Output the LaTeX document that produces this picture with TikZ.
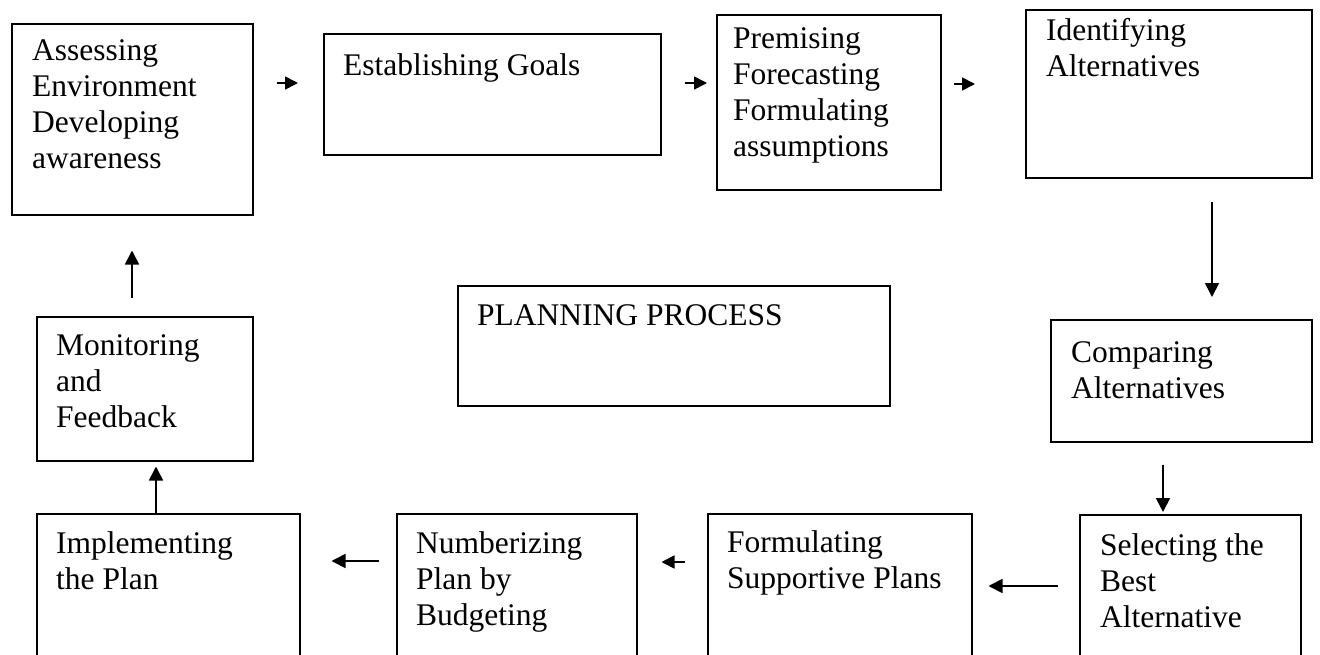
\documentclass[tikz,border=0pt]{standalone}
\usepackage{fontspec}
\setmainfont{Liberation Serif}
\usetikzlibrary{arrows.meta}
\newcommand\mylines[1]{\begin{tabular}[t]{@{}l@{}}#1\end{tabular}}
\begin{document}
\begin{tikzpicture}[x=1pt,y=-1pt,
  box/.style={draw, line width=1.5pt, inner sep=0pt, anchor=north west},
  lbl/.style={anchor=base west, inner sep=0pt, font=\fontsize{31.5}{36}\selectfont},
  arr/.style={line width=1.7pt, -{Triangle[length=14pt,width=14pt]}},
  sarr/.style={line width=1.7pt, -{Triangle[length=13pt,width=13pt]}}]
\useasboundingbox (0,0) rectangle (1320,654);
\clip (0,0) rectangle (1320,654);
% boxes
\node[box, minimum width=241pt, minimum height=191pt] (asses) at (11,23) {};
\node[box, minimum width=337pt, minimum height=121pt] (goals) at (323,33) {};
\node[box, minimum width=224pt, minimum height=175pt] (premise) at (716,14) {};
\node[box, minimum width=286pt, minimum height=168pt] (ident) at (1025,9) {};
\node[box, minimum width=261pt, minimum height=122pt] (compare) at (1050,319) {};
\node[box, minimum width=221pt, minimum height=170pt] (select) at (1079,514) {};
\node[box, minimum width=264pt, minimum height=170pt] (supp) at (707,513) {};
\node[box, minimum width=240pt, minimum height=170pt] (budget) at (396,513) {};
\node[box, minimum width=263pt, minimum height=170pt] (impl) at (36,513) {};
\node[box, minimum width=216pt, minimum height=144pt] (monitor) at (36,316) {};
\node[box, minimum width=432pt, minimum height=120pt] (center) at (457,285) {};
% texts
\node[lbl] (tasses) at (32,60) {\mylines{Assessing\\Environment\\Developing\\awareness}};
\node[lbl] (tgoals) at (343,75) {Establishing Goals};
\node[lbl] (tpremise) at (733,48) {\mylines{Premising\\Forecasting\\Formulating\\assumptions}};
\node[lbl] (tident) at (1046,40) {\mylines{Identifying\\Alternatives}};
\node[lbl] (tcompare) at (1071,362) {\mylines{Comparing\\Alternatives}};
\node[lbl] (tselect) at (1100,555) {\mylines{Selecting the\\Best\\Alternative}};
\node[lbl] (tsupp) at (727,552) {\mylines{Formulating\\Supportive Plans}};
\node[lbl] (tbudget) at (416,553) {\mylines{Numberizing\\Plan by\\Budgeting}};
\node[lbl] (timpl) at (56,553) {\mylines{Implementing\\the Plan}};
\node[lbl] (tmonitor) at (56,355) {\mylines{Monitoring\\and\\Feedback}};
\node[lbl] (tcenter) at (477,325) {PLANNING PROCESS};
% arrow guide coordinates
\coordinate (r1) at (0,83);
\coordinate (r2) at (0,84);
\coordinate (c4) at (1212,0);
\coordinate (c5) at (1163,0);
\coordinate (r6) at (0,586);
\coordinate (r7) at (0,562);
\coordinate (r8) at (0,561);
\coordinate (c9) at (156,0);
\coordinate (c10) at (132,0);
% connectors
\draw[sarr, shorten <=23pt, shorten >=25pt] (asses.east |- r1) -- (goals.west |- r1);
\draw[sarr, shorten <=23pt, shorten >=9pt] (goals.east |- r1) -- (premise.west |- r1);
\draw[sarr, shorten <=12pt, shorten >=50pt] (premise.east |- r2) -- (ident.west |- r2);
\draw[arr, shorten <=23pt, shorten >=22pt] (ident.south -| c4) -- (compare.north -| c4);
\draw[arr, shorten <=22pt, shorten >=2pt] (compare.south -| c5) -- (select.north -| c5);
\draw[arr, shorten <=21pt, shorten >=16pt] (select.west |- r6) -- (supp.east |- r6);
\draw[sarr, shorten <=22pt, shorten >=24pt] (supp.west |- r7) -- (budget.east |- r7);
\draw[arr, shorten <=17pt, shorten >=31pt] (budget.west |- r8) -- (impl.east |- r8);
\draw[arr, shorten >=5pt] (impl.north -| c9) -- (monitor.south -| c9);
\draw[arr, shorten <=18pt, shorten >=35pt] (monitor.north -| c10) -- (asses.south -| c10);
\end{tikzpicture}
\end{document}
